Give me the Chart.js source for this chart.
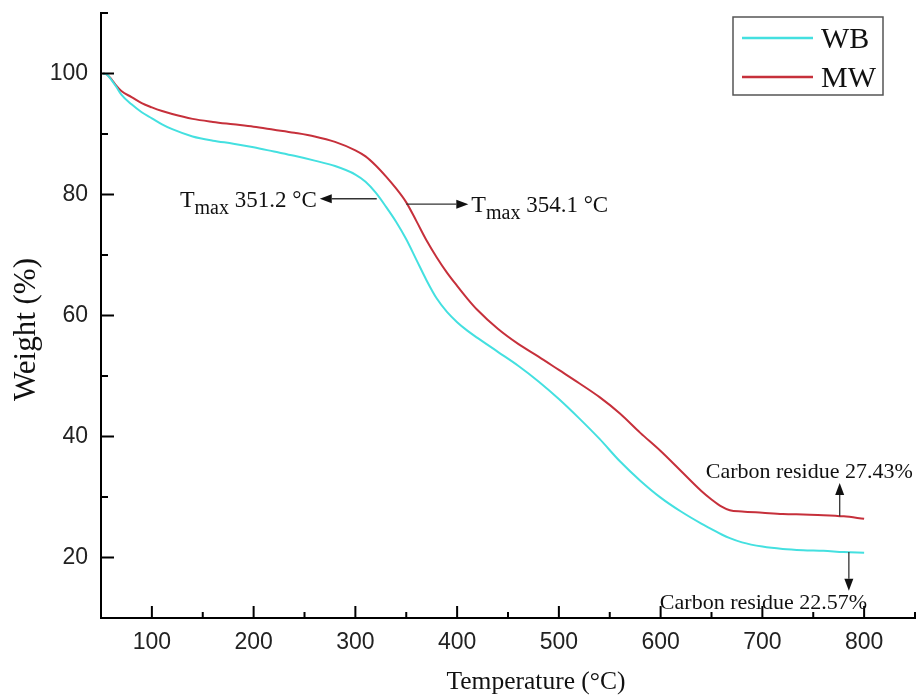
<!DOCTYPE html>
<html>
<head>
<meta charset="utf-8">
<script src="https://cdn.jsdelivr.net/npm/chart.js@4.4.0/dist/chart.umd.min.js"></script>
<style>
  html, body { margin: 0; padding: 0; background: #fff; }
  #wrap { width: 921px; height: 697px; position: relative; }
</style>
</head>
<body>
<div id="wrap"><canvas id="tga"></canvas></div>
<script>
// TGA curves (temperature in °C, weight in %)
const temps = [52, 56, 60, 65, 70, 80, 90, 100, 110, 120, 140, 160, 180, 200, 220, 240, 260, 280, 300, 310,
  320, 330, 340, 350, 360, 370, 380, 390, 400, 410, 420, 440, 460, 480, 500, 520, 540, 560, 580, 600,
  620, 640, 650, 660, 668, 680, 700, 720, 740, 760, 780, 800];
const wbWeight = [100, 99.8, 99.0, 97.8, 96.5, 94.9, 93.6, 92.6, 91.6, 90.8, 89.6, 88.9, 88.4, 87.8, 87.1, 86.4, 85.6, 84.7, 83.3, 82.1,
  80.3, 78.0, 75.5, 72.6, 69.2, 65.8, 62.8, 60.6, 58.9, 57.5, 56.3, 54.0, 51.7, 49.1, 46.2, 43.0, 39.6, 35.9, 32.7, 29.9,
  27.6, 25.6, 24.7, 23.8, 23.2, 22.5, 21.8, 21.4, 21.2, 21.1, 20.9, 20.8];
const mwWeight = [100, 99.8, 99.1, 98.0, 97.1, 96.1, 95.1, 94.4, 93.8, 93.3, 92.5, 92.0, 91.6, 91.2, 90.7, 90.2, 89.6, 88.7, 87.3, 86.3,
  84.8, 83.0, 81.0, 78.7, 75.6, 72.4, 69.6, 67.1, 64.9, 62.8, 60.9, 57.8, 55.3, 53.2, 51.0, 48.8, 46.5, 43.8, 40.6, 37.6,
  34.3, 31.0, 29.6, 28.4, 27.8, 27.6, 27.4, 27.2, 27.1, 27.0, 26.8, 26.4];

const seriesNames = ['WB', 'MW'];
const seriesColors = ['#44e0e0', '#c6303b'];

const xTicksShown = [100, 200, 300, 400, 500, 600, 700, 800];
const yTicksShown = [20, 40, 60, 80, 100];

// annotation arrows, in data units: from the curve to the arrow tip
const arrowNotes = [
  { from: [321, 79.3], to: [265, 79.3], sub: 'max', value: ' 351.2 °C', side: 'left' },
  { from: [350, 78.4], to: [411, 78.4], sub: 'max', value: ' 354.1 °C', side: 'right' },
  { from: [776, 26.8], to: [776, 32.3], text: 'Carbon residue 27.43%', side: 'above' },
  { from: [785, 20.9], to: [785, 14.5], text: 'Carbon residue 22.57%', side: 'below' }
];

const serif = "'Liberation Serif', 'Times New Roman', serif";

function toPoints(xs, ys) {
  return xs.map((x, i) => ({ x: x, y: ys[i] }));
}

const decorPlugin = {
  id: 'decor',
  afterDraw(chart) {
    const ctx = chart.ctx;
    const xs = chart.scales.x, ys = chart.scales.y;
    const area = chart.chartArea;
    ctx.save();

    // inward tick marks
    ctx.strokeStyle = '#000';
    ctx.lineWidth = 2;
    ctx.beginPath();
    xs.ticks.forEach(t => {
      if (t.value <= xs.min) return;
      const px = xs.getPixelForValue(t.value);
      const len = xTicksShown.includes(t.value) ? 12 : 6;
      ctx.moveTo(px, area.bottom);
      ctx.lineTo(px, area.bottom - len);
    });
    ys.ticks.forEach(t => {
      if (t.value <= ys.min) return;
      const py = ys.getPixelForValue(t.value);
      const len = yTicksShown.includes(t.value) ? 13 : 7;
      ctx.moveTo(area.left, py);
      ctx.lineTo(area.left + len, py);
    });
    ctx.stroke();

    // axis titles
    ctx.fillStyle = '#111';
    ctx.font = '25.5px ' + serif;
    ctx.textAlign = 'center';
    ctx.textBaseline = 'middle';
    ctx.fillText('Temperature (°C)', (area.left + area.right) / 2 + 28, 682);
    ctx.save();
    ctx.translate(27, (area.top + area.bottom) / 2 + 14);
    ctx.rotate(-Math.PI / 2);
    ctx.font = '31px ' + serif;
    ctx.fillText('Weight (%)', 0, 0);
    ctx.restore();

    // arrows and notes
    arrowNotes.forEach(n => {
      const x0 = xs.getPixelForValue(n.from[0]), y0 = ys.getPixelForValue(n.from[1]);
      const x1 = xs.getPixelForValue(n.to[0]), y1 = ys.getPixelForValue(n.to[1]);
      const ang = Math.atan2(y1 - y0, x1 - x0);
      const hl = 12, hw = 4.5;
      ctx.strokeStyle = '#333';
      ctx.fillStyle = '#111';
      ctx.lineWidth = 1.3;
      ctx.beginPath();
      ctx.moveTo(x0, y0);
      ctx.lineTo(x1 - Math.cos(ang) * hl, y1 - Math.sin(ang) * hl);
      ctx.stroke();
      ctx.beginPath();
      ctx.moveTo(x1, y1);
      ctx.lineTo(x1 - Math.cos(ang) * hl - Math.sin(ang) * hw, y1 - Math.sin(ang) * hl + Math.cos(ang) * hw);
      ctx.lineTo(x1 - Math.cos(ang) * hl + Math.sin(ang) * hw, y1 - Math.sin(ang) * hl - Math.cos(ang) * hw);
      ctx.closePath();
      ctx.fill();

      ctx.textAlign = 'left';
      ctx.textBaseline = 'alphabetic';
      if (n.sub) {
        ctx.font = '24px ' + serif;
        const wT = ctx.measureText('T').width;
        ctx.font = '20px ' + serif;
        const wS = ctx.measureText(n.sub).width;
        ctx.font = '23px ' + serif;
        const wV = ctx.measureText(n.value).width;
        const total = wT + wS + wV;
        const sx = n.side === 'left' ? x1 - 3 - total : x1 + 3;
        const base = y1 + 8;
        ctx.font = '24px ' + serif;
        ctx.fillText('T', sx, base);
        ctx.font = '20px ' + serif;
        ctx.fillText(n.sub, sx + wT, base + 7);
        ctx.font = '23px ' + serif;
        ctx.fillText(n.value, sx + wT + wS, base);
      } else {
        ctx.font = '22px ' + serif;
        if (n.side === 'above') {
          ctx.fillText(n.text, x1 - 134, y1 - 5);
        } else {
          ctx.fillText(n.text, x1 - 189, y1 + 18);
        }
      }
    });

    // legend box
    const lx = area.right - 182, ly = area.top + 4, lw = 150, lh = 78;
    ctx.strokeStyle = '#555';
    ctx.lineWidth = 1.5;
    ctx.strokeRect(lx, ly, lw, lh);
    chart.data.datasets.forEach((ds, i) => {
      const yy = ly + 21 + i * 39;
      ctx.strokeStyle = ds.borderColor;
      ctx.lineWidth = 2.5;
      ctx.beginPath();
      ctx.moveTo(lx + 9, yy);
      ctx.lineTo(lx + 80, yy);
      ctx.stroke();
      ctx.fillStyle = '#111';
      ctx.font = '30px ' + serif;
      ctx.textAlign = 'left';
      ctx.textBaseline = 'middle';
      ctx.fillText(ds.label, lx + 88, yy + 2);
    });
    ctx.restore();
  }
};

new Chart(document.getElementById('tga'), {
  type: 'line',
  data: {
    datasets: [
      { label: seriesNames[0], data: toPoints(temps, wbWeight), borderColor: seriesColors[0] },
      { label: seriesNames[1], data: toPoints(temps, mwWeight), borderColor: seriesColors[1] }
    ]
  },
  options: {
    responsive: true,
    maintainAspectRatio: false,
    animation: false,
    layout: { padding: { top: 13, right: 6, left: 0, bottom: 0 } },
    elements: {
      point: { radius: 0 },
      line: { borderWidth: 2, cubicInterpolationMode: 'monotone', fill: false }
    },
    plugins: {
      legend: { display: false },
      tooltip: { enabled: false }
    },
    scales: {
      x: {
        type: 'linear',
        min: 50,
        max: 850,
        grid: { display: false, drawTicks: false },
        border: { display: true, color: '#000', width: 2 },
        ticks: {
          stepSize: 50,
          autoSkip: false,
          maxRotation: 0,
          padding: 11,
          color: '#222',
          font: { family: "'Liberation Sans', Arial, sans-serif", size: 23 },
          callback: v => xTicksShown.includes(v) ? String(v) : ''
        },
        afterFit: s => { s.height = 79; s.paddingLeft = 0; s.paddingRight = 0; }
      },
      y: {
        min: 10,
        max: 110,
        grid: { display: false, drawTicks: false },
        border: { display: true, color: '#000', width: 2 },
        ticks: {
          stepSize: 10,
          autoSkip: false,
          padding: 13,
          color: '#222',
          font: { family: "'Liberation Sans', Arial, sans-serif", size: 23 },
          callback: v => yTicksShown.includes(v) ? String(v) : ''
        },
        afterFit: s => { s.width = 101; s.paddingTop = 0; s.paddingBottom = 0; }
      }
    }
  },
  plugins: [decorPlugin]
});
</script>
</body>
</html>
